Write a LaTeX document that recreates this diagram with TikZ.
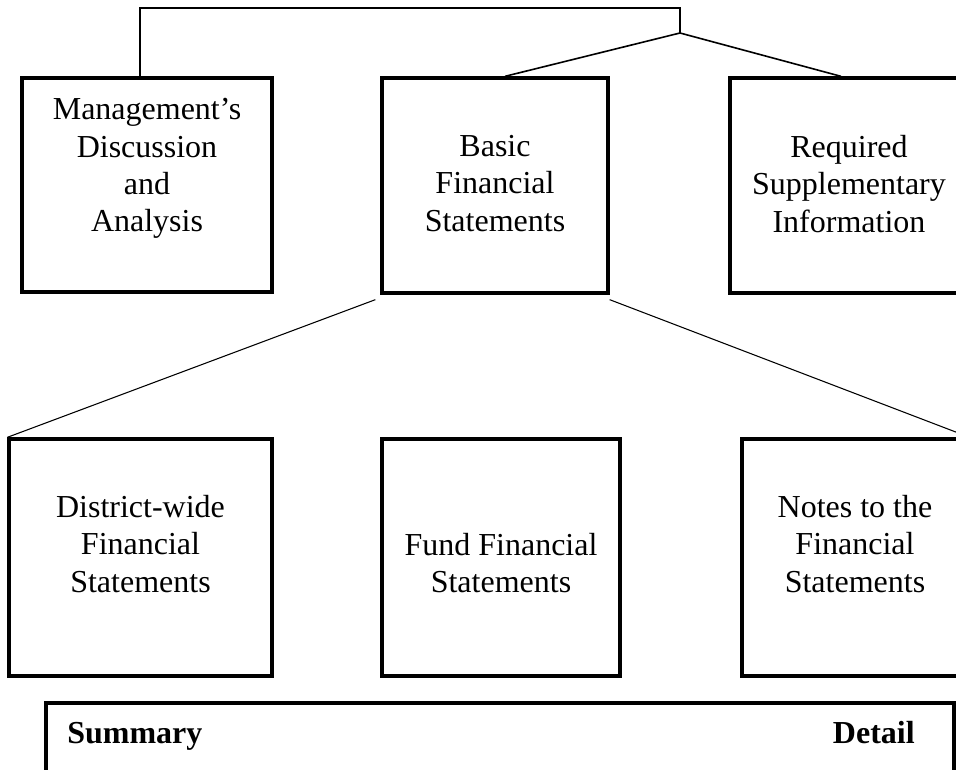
\documentclass[tikz,border=0pt]{standalone}
\usepackage{fontspec}
\setmainfont{Liberation Serif}
\tikzset{
	panel/.style 2 args={draw, line width=2.5pt, minimum width=#1*0.75pt, minimum height=#2*0.75pt, inner sep=0pt},
	caption/.style={align=center, inner sep=0pt, font=\fontsize{24}{28.1}\selectfont},
	bracket/.style={line width=0.8pt},
	link/.style={line width=1.2pt}
}
\begin{document}
\begin{tikzpicture}[x=0.75pt, y=-0.75pt]
	\clip (0, 0) rectangle (956, 770);
	% top row
	\node[panel={250}{214}] (mda) at (147, 185) {};
	\node[panel={226}{215}] (bfs) at (495, 185.5) {};
	\node[panel={238}{215}] (rsi) at (849, 185.5) {};
	\node[caption, anchor=north] (mdaText) at (147, 98) {Management's\\Discussion\\and\\Analysis};
	\node[caption, anchor=north] (bfsText) at (495, 135) {Basic\\Financial\\Statements};
	\node[caption, anchor=north] (rsiText) at (849, 135) {Required\\Supplementary\\Information};
	% bottom row
	\node[panel={263}{237}] (dfs) at (140.5, 557.5) {};
	\node[panel={238}{237}] (ffs) at (501, 557.5) {};
	\node[panel={226}{237}] (nfs) at (855, 557.5) {};
	\node[caption, anchor=north] (dfsText) at (140.5, 495) {District-wide\\Financial\\Statements};
	\node[caption, anchor=north] (ffsText) at (501, 533) {Fund Financial\\Statements};
	\node[caption, anchor=north] (nfsText) at (855, 495) {Notes to the\\Financial\\Statements};
	% scale
	\node[panel={908}{97}] (scale) at (500, 751.5) {};
	\node[anchor=base west, inner sep=0pt, font=\fontsize{24}{28}\selectfont\bfseries] (summary) at (67, 743) {Summary};
	\node[anchor=base east, inner sep=0pt, font=\fontsize{24}{28}\selectfont\bfseries] (detail) at (915, 743) {Detail};
	% connectors
	\coordinate (mdaTop) at (140, 78);
	\coordinate (bar) at (680, 8);
	\coordinate (hub) at (680, 33);
	\draw[bracket] (mdaTop) |- (bar) -- (hub);
	\draw[link] (hub) -- ([xshift=7.5pt]bfs.north);
	\draw[link] (hub) -- ([xshift=-6pt]rsi.north);
	\draw[bracket] ([xshift=-3.75pt, yshift=-3.75pt]bfs.south west) -- (dfs.north west);
	\draw[bracket] ([yshift=-3.75pt]bfs.south east) -- (nfs.north east);
\end{tikzpicture}
\end{document}
